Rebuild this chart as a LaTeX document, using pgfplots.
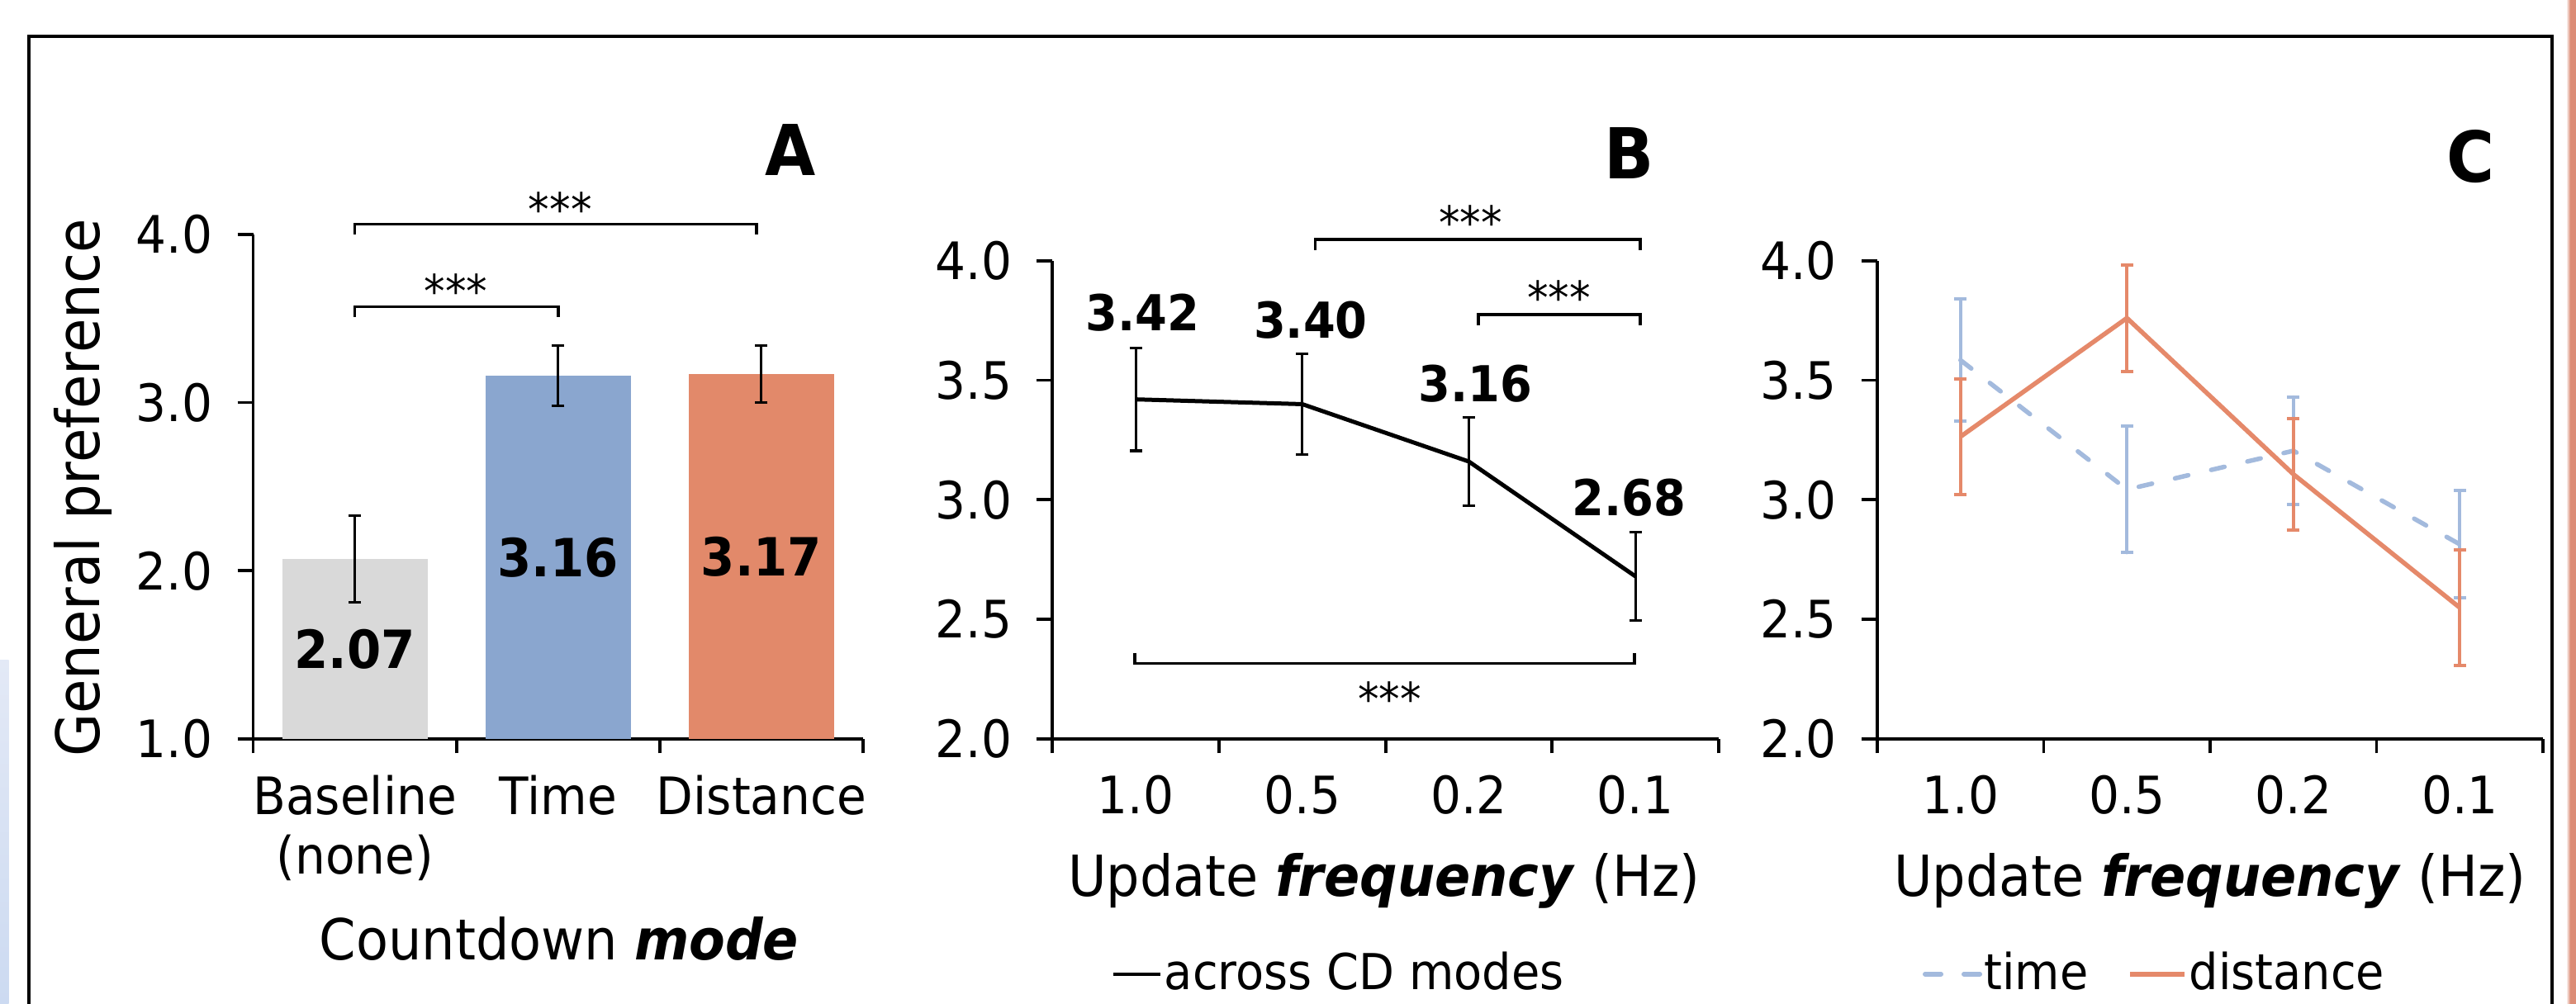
\documentclass[border=0pt]{standalone}
\usepackage{fontspec}
\setmainfont{DejaVu Sans}[FakeStretch=0.93]
\usepackage{pgfplots}
\pgfplotsset{compat=1.18}
\definecolor{barGray}{HTML}{D9D9D9}
\definecolor{barBlue}{HTML}{8AA6CF}
\definecolor{barOrange}{HTML}{E2896A}
\definecolor{lnBlue}{HTML}{A3BADD}
\definecolor{lnOrange}{HTML}{E5896A}
\definecolor{stripBlueA}{HTML}{E3E9F6}
\definecolor{stripBlueB}{HTML}{CCDAF1}
\definecolor{stripOrange}{HTML}{DC8C76}

\pgfplotsset{
  panel/.style={
    scale only axis, clip=false,
    axis lines=left, axis line style={line width=0.75pt,-},
    tick align=outside,
    major tick length=3.8pt, minor tick length=3.5pt,
    major y tick style={black,line width=0.75pt},
    major x tick style={draw=none},
    minor x tick style={black,line width=0.75pt},
    ticklabel style={font=\fontsize{12.5}{14.4}\selectfont},
    yticklabel style={xshift=-2.5pt,/pgf/number format/.cd,fixed,fixed zerofill,precision=1,assume math mode=true},
    xticklabel style={yshift=-1.5pt},
  },
  errs/.style 2 args={error bars/.cd, y dir=both, y explicit,
    error mark=|,
    error bar style={draw=#1,line width=#2,solid},
    error mark options={draw=#1,line width=#2,mark size=1.5pt,solid},
    /pgfplots/.cd},
}
\newcommand{\stars}{\fontsize{11}{12}\selectfont ***}

\begin{document}
\begin{tikzpicture}
\useasboundingbox (0,0) rectangle (623.8pt,243.2pt);
% slide edges
\shade[top color=stripBlueA,bottom color=stripBlueB] (0pt,0pt) rectangle (2.1pt,83.2pt);
\shade[left color=white,right color=stripOrange] (621.4pt,0pt) rectangle (622.4pt,243.2pt);
\fill[stripOrange] (622.4pt,0pt) rectangle (623.8pt,243.2pt);
\draw[line width=0.8pt] (7pt,-2pt) -- (7pt,234.4pt) -- (618pt,234.4pt) -- (618pt,-2pt);

% ---------- A ----------
\begin{axis}[panel, at={(61.32pt,64.2pt)}, anchor=south west,
  width=147.68pt, height=122.22pt,
  xmin=-0.5, xmax=2.5, ymin=1, ymax=4,
  ytick={1,2,3,4},
  xtick={0,1,2}, xticklabels={{Baseline\\(none)},Time,Distance},
  xticklabel style={align=center},
  minor xtick={-0.5,0.5,1.5,2.5},
  ybar, bar width=35.2pt, bar shift=0pt]
\addplot[fill=barGray,draw=none,errs={black}{0.6pt}] coordinates {(0,2.07) +- (0,0.257)};
\addplot[fill=barBlue,draw=none,errs={black}{0.6pt}] coordinates {(1,3.16) +- (0,0.177)};
\addplot[fill=barOrange,draw=none,errs={black}{0.6pt}] coordinates {(2,3.17) +- (0,0.17)};
\begin{scope}[font=\bfseries\fontsize{12.75}{16}\selectfont]
\node at (axis cs:0,1.535) {2.07};
\node at (axis cs:1,2.08) {3.16};
\node at (axis cs:2,2.085) {3.17};
\end{scope}
\draw[line width=0.7pt] (axis cs:0,4.0) -- (axis cs:0,4.06) -- (axis cs:1.975,4.06) -- (axis cs:1.975,4.0);
\draw[line width=0.7pt] (axis cs:0,3.51) -- (axis cs:0,3.57) -- (axis cs:1,3.57) -- (axis cs:1,3.51);
\node[anchor=north,inner sep=0pt] at (axis cs:1.01,4.255) {\stars};
\node[anchor=north,inner sep=0pt] at (axis cs:0.497,3.77) {\stars};
\end{axis}

% ---------- B ----------
\begin{axis}[panel, at={(254.86pt,64.2pt)}, anchor=south west,
  width=161.34pt, height=115.86pt,
  xmin=0.5, xmax=4.5, ymin=2, ymax=4,
  ytick={2,2.5,3,3.5,4},
  xtick={1,2,3,4}, xticklabels={1.0,0.5,0.2,0.1},
  minor xtick={0.5,1.5,2.5,3.5,4.5},
  legend style={at={(axis description cs:0.0876,-0.4916)}, anchor=west,
    draw=none, fill=none, inner sep=0pt,
    font=\fontsize{12}{15}\selectfont, nodes={inner xsep=0.5pt,inner ysep=0pt}},
  legend image code/.code={\draw[#1] (0pt,0pt) -- (11.5pt,0pt);}]
\addplot[black,line width=1pt,forget plot,errs={black}{0.65pt}] coordinates {
  (1,3.42) +- (0,0.215)
  (2,3.40) +- (0,0.21)
  (3,3.16) +- (0,0.185)
  (4,2.68) +- (0,0.185)
};
\addlegendimage{black,line width=0.8pt}
\addlegendentry{across CD modes}
\begin{scope}[font=\bfseries\fontsize{12}{15}\selectfont]
\node at (axis cs:1.04,3.783) {3.42};
\node at (axis cs:2.05,3.75) {3.40};
\node at (axis cs:3.04,3.486) {3.16};
\node at (axis cs:3.96,3.01) {2.68};
\end{scope}
\draw[line width=0.7pt] (axis cs:2.077,4.045) -- (axis cs:2.077,4.088) -- (axis cs:4.03,4.088) -- (axis cs:4.03,4.045);
\draw[line width=0.7pt] (axis cs:3.056,3.73) -- (axis cs:3.056,3.775) -- (axis cs:4.03,3.775) -- (axis cs:4.03,3.73);
\draw[line width=0.7pt] (axis cs:0.994,2.36) -- (axis cs:0.994,2.316) -- (axis cs:3.995,2.316) -- (axis cs:3.995,2.36);
\node[anchor=north,inner sep=0pt] at (axis cs:3.01,4.236) {\stars};
\node[anchor=north,inner sep=0pt] at (axis cs:3.54,3.92) {\stars};
\node[anchor=north,inner sep=0pt] at (axis cs:2.525,2.244) {\stars};
\end{axis}

% ---------- C ----------
\begin{axis}[panel, at={(454.6pt,64.2pt)}, anchor=south west,
  width=161.2pt, height=115.86pt,
  xmin=0.5, xmax=4.5, ymin=2, ymax=4,
  ytick={2,2.5,3,3.5,4},
  xtick={1,2,3,4}, xticklabels={1.0,0.5,0.2,0.1},
  minor xtick={0.5,1.5,2.5,3.5,4.5},
  legend columns=2,
  legend style={at={(axis description cs:0.067,-0.4916)}, anchor=west,
    draw=none, fill=none, inner sep=0pt,
    font=\fontsize{12}{15}\selectfont, nodes={inner xsep=0.5pt,inner ysep=0pt},
    /tikz/every even column/.append style={column sep=9pt}},
  legend image code/.code={\draw[#1] (0.55pt,0pt) -- (13.85pt,0pt);}]
\addplot[lnBlue,line width=1.1pt,line cap=round,dash pattern=on 3.3pt off 5.7pt,forget plot,errs={lnBlue}{0.8pt}] coordinates {
  (1,3.584) +- (0,0.256)
  (2,3.043) +- (0,0.264)
  (3,3.205) +- (0,0.225)
  (4,2.814) +- (0,0.225)
};
\addplot[lnOrange,line width=1.1pt,forget plot,errs={lnOrange}{0.8pt}] coordinates {
  (1,3.264) +- (0,0.241)
  (2,3.76) +- (0,0.222)
  (3,3.107) +- (0,0.234)
  (4,2.549) +- (0,0.241)
};
\addlegendimage{lnBlue,line width=1.1pt,line cap=round,dash pattern=on 3.9pt off 5.5pt}
\addlegendentry{time}
\addlegendimage{lnOrange,line width=1.1pt}
\addlegendentry{distance}
\end{axis}

% labels
\node[font=\bfseries\fontsize{17}{20}\selectfont] at (191.5pt,206.8pt) {A};
\node[font=\bfseries\fontsize{17}{20}\selectfont] at (394.5pt,206pt) {B};
\node[font=\bfseries\fontsize{17}{20}\selectfont] at (598.2pt,205.2pt) {C};
\node[rotate=90,anchor=base,font=\fontsize{14.5}{18}\selectfont] at (24.1pt,125pt) {General preference};
\node[anchor=base,font=\fontsize{13.7}{17}\selectfont] at (135.4pt,10.6pt) {Countdown \textbf{\textit{mode}}};
\node[anchor=base,font=\fontsize{13.7}{17}\selectfont] at (335.2pt,26pt) {Update \textbf{\textit{frequency}} (Hz)};
\node[anchor=base,font=\fontsize{13.7}{17}\selectfont] at (535.2pt,26pt) {Update \textbf{\textit{frequency}} (Hz)};
\end{tikzpicture}
\end{document}
